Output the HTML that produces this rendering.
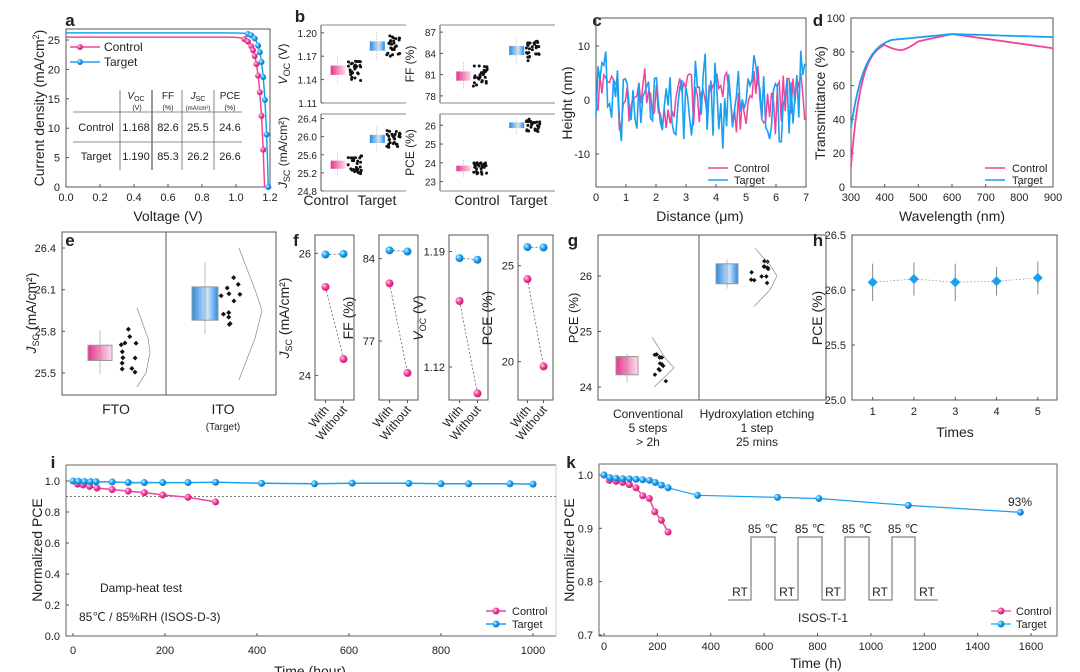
<!DOCTYPE html>
<html><head><meta charset="utf-8"><style>
html,body{margin:0;padding:0;background:#fff;}
svg{display:block;font-family:"Liberation Sans",sans-serif;}
text{fill:#222;}
</style></head><body>
<svg id="s" width="1080" height="672" viewBox="0 0 1080 672" xmlns="http://www.w3.org/2000/svg">
<defs>
<linearGradient id="gp" x1="0" x2="1"><stop offset="0" stop-color="#e8338a"/><stop offset="1" stop-color="#fbe0ee"/></linearGradient>
<linearGradient id="gb" x1="0" x2="1"><stop offset="0" stop-color="#2a8be0"/><stop offset="0.6" stop-color="#cfe5fa"/><stop offset="1" stop-color="#2a8be0"/></linearGradient>
<radialGradient id="bp" cx="0.35" cy="0.35" r="0.7"><stop offset="0" stop-color="#ffd0ea"/><stop offset="0.5" stop-color="#f23d9a"/><stop offset="1" stop-color="#c2166e"/></radialGradient>
<radialGradient id="bb" cx="0.35" cy="0.35" r="0.7"><stop offset="0" stop-color="#d0f0ff"/><stop offset="0.5" stop-color="#18a0f0"/><stop offset="1" stop-color="#0a70c0"/></radialGradient>
</defs>
<g id="g"></g>
</svg>
<script>
var G=document.getElementById('g'),o='';
function L(x1,y1,x2,y2,c,w,d){o+='<line x1="'+x1+'" y1="'+y1+'" x2="'+x2+'" y2="'+y2+'" stroke="'+(c||'#555')+'" stroke-width="'+(w||1)+'"'+(d?' stroke-dasharray="'+d+'"':'')+'/>';}
function R(x,y,w,h,f,s){o+='<rect x="'+x+'" y="'+y+'" width="'+w+'" height="'+h+'" fill="'+(f||'none')+'" stroke="'+(s||'#555')+'" stroke-width="1"/>';}
function T(x,y,t,sz,a,ex){o+='<text x="'+x+'" y="'+y+'" font-size="'+(sz||11)+'" text-anchor="'+(a||'middle')+'" '+(ex||'')+'>'+t+'</text>';}
function P(pts,c,w,d){o+='<polyline points="'+pts.map(function(p){return p[0].toFixed(1)+','+p[1].toFixed(1)}).join(' ')+'" fill="none" stroke="'+c+'" stroke-width="'+(w||1.5)+'"'+(d?' stroke-dasharray="'+d+'"':'')+'/>';}
function C(x,y,r,f){o+='<circle cx="'+x+'" cy="'+y+'" r="'+r+'" fill="'+f+'"/>';}
function D(x,y,r,f){o+='<polygon points="'+x+','+(y-r)+' '+(x+r)+','+y+' '+x+','+(y+r)+' '+(x-r)+','+y+'" fill="'+f+'"/>';}
function B(x,y,t){T(x,y,t,17,'middle','font-weight="bold"');}
function RT(x,y,t,sz){o+='<text x="'+x+'" y="'+y+'" font-size="'+(sz||13)+'" text-anchor="middle" transform="rotate(-90 '+x+' '+y+')">'+t+'</text>';}
var seed=7;function rnd(){seed=(seed*16807)%2147483647;return seed/2147483647;}
var PK='#f0449a',BL='#1aa0f0';

// ===== a =====
B(70,26,'a');R(66,29,204,158);
var ax=function(v){return 66+v*170},ay=function(j){return 187-j*5.88};
[0,0.2,0.4,0.6,0.8,1.0,1.2].forEach(function(v){T(ax(v),201,v.toFixed(1),11);L(ax(v),187,ax(v),184)});
[0,5,10,15,20,25].forEach(function(v){T(60,ay(v)+4,v,11,'end');L(66,ay(v),69,ay(v))});
T(168,221,'Voltage (V)',14);RT(44,108,'Current density (mA/cm<tspan font-size="9" dy="-5">2</tspan><tspan dy="5">)</tspan>',14);
function jv(js,voc,n){var p=[];for(var v=0;v<=voc;v+=0.005){var j=js*(1-Math.exp((v-voc)/n));p.push([ax(v),ay(Math.max(j,0))]);}p.push([ax(voc),ay(0)]);return p;}
P(jv(25.5,1.168,0.028),PK,1.5);P(jv(26.2,1.19,0.024),BL,1.5);
[1.05,1.07,1.09,1.1,1.11,1.12,1.13,1.14,1.15,1.16].forEach(function(v){var j=25.5*(1-Math.exp((v-1.168)/0.028));C(ax(v),ay(j),3,'url(#bp)')});
[1.07,1.09,1.11,1.13,1.14,1.15,1.16,1.17,1.18,1.19].forEach(function(v){var j=26.2*(1-Math.exp((v-1.19)/0.024));C(ax(v),ay(Math.max(j,0)),3,'url(#bb)')});
L(70,47,100,47,PK,1.5);C(80,47,3,'url(#bp)');T(104,51,'Control',12,'start');
L(70,62,100,62,BL,1.5);C(80,62,3,'url(#bb)');T(104,66,'Target',12,'start');
L(73,112,242,112,'#666',0.8);L(73,142,242,142,'#666',0.8);L(120,90,120,170,'#666',0.8);L(152,90,152,170,'#777',1.5);L(182,90,182,170,'#666',0.8);L(214,90,214,170,'#666',0.8);
T(136,99,'<tspan font-style="italic">V</tspan><tspan font-size="7" dy="2">OC</tspan>',10);T(137,110,'(V)',7);
T(168,99,'FF',10);T(168,110,'(%)',7);
T(198,99,'<tspan font-style="italic">J</tspan><tspan font-size="7" dy="2">SC</tspan>',10);T(198,110,'(mA/cm²)',6);
T(230,99,'PCE',10);T(230,110,'(%)',7);
[['Control',1.168,82.6,25.5,24.6,131],['Target',1.190,85.3,26.2,26.6,160]].forEach(function(r){T(96,r[5],r[0],11);T(136,r[5],r[1].toFixed(3),11);T(168,r[5],r[2],11);T(198,r[5],r[3],11);T(230,r[5],r[4],11);});

// ===== b =====
B(300,22,'b');
function bx(x0,y0,w,h,lo,hi,ticks,yl,cv,tv,sp,lx){
 L(x0,y0,x0,y0+h);L(x0,y0,x0+w,y0,'#888');L(x0,y0+h,x0+w,y0+h,'#888');
 var f=function(v){return y0+h-(v-lo)/(hi-lo)*h};
 ticks.forEach(function(v){T(x0-4,f(v)+4,v,10,'end');L(x0,f(v),x0+3,f(v))});
 [[x0+w*0.22,cv,'url(#gp)'],[x0+w*0.68,tv,'url(#gb)']].forEach(function(q){
  var c=q[1];R(q[0]-9,f(c+sp*0.5),15,f(c-sp*0.5)-f(c+sp*0.5),q[2],'none');
  L(q[0]-2,f(c+sp*1.5),q[0]-2,f(c-sp*1.5),'#bbb',0.6,'2,1');
  for(var i=0;i<28;i++){var v=c+(rnd()-0.5)*sp*2.2;C(q[0]+8+rnd()*14,f(v),1.5,'#111')}
 });
 RT(lx,y0+h/2,yl,12);
}
bx(321,25,85,78,1.11,1.21,['1.11','1.14','1.17','1.20'],'<tspan font-style="italic">V</tspan><tspan font-size="9" dy="3">OC</tspan><tspan dy="-3"> (V)</tspan>',1.152,1.183,0.012,287);
bx(321,114,85,77,24.8,26.5,['24.8','25.2','25.6','26.0','26.4'],'<tspan font-style="italic">J</tspan><tspan font-size="9" dy="3">SC</tspan><tspan dy="-3"> (mA/cm²)</tspan>',25.38,25.95,0.18,287);
bx(440,25,115,78,77,88,['78','81','84','87'],'FF (%)',80.8,84.4,1.3,414);
bx(440,114,115,77,22.5,26.6,['23','24','25','26'],'PCE (%)',23.7,26.0,0.3,414);
T(326,205,'Control',14);T(377,205,'Target',14);T(477,205,'Control',14);T(528,205,'Target',14);

// ===== c =====
B(597,26,'c');R(596,18,210,169);
var cx=function(v){return 596+v*30},cy=function(v){return 100-v*5.4};
[0,1,2,3,4,5,6,7].forEach(function(v){T(cx(v),201,v,11);L(cx(v),187,cx(v),184)});
[10,0,-10].forEach(function(v){T(590,cy(v)+4,v,11,'end');L(596,cy(v),599,cy(v))});
T(700,221,'Distance (μm)',14);RT(572,103,'Height (nm)',14);
var a=[],b=[];for(var x=0;x<=7;x+=0.065){a.push([cx(x),cy((rnd()-0.5)*10+Math.sin(x*5)*1.5)]);b.push([cx(x),cy((rnd()-0.5)*15+Math.sin(x*4)*2)]);}
P(a,PK,1.5);P(b,BL,1.6);
L(708,168,728,168,PK,1.5);T(734,172,'Control',11,'start');L(708,180,728,180,BL,1.5);T(734,184,'Target',11,'start');

// ===== d =====
B(818,26,'d');R(851,18,202,169);
var dx=function(v){return 851+(v-300)*0.3367},dy=function(v){return 187-v*1.69};
[300,400,500,600,700,800,900].forEach(function(v){T(dx(v),201,v,11);L(dx(v),187,dx(v),184)});
[0,20,40,60,80,100].forEach(function(v){T(845,dy(v)+4,v,11,'end');L(851,dy(v),854,dy(v))});
T(952,221,'Wavelength (nm)',14);RT(825,103,'Transmittance (%)',14);
var dp=[],db=[];for(var w=300;w<=900;w+=4){
 var pk;if(w<=400)pk=12+72*(1-Math.exp(-(w-300)/30))/(1-Math.exp(-100/30));
 else if(w<=600){var t=(w-400)/200;pk=84-3*Math.sin(Math.min(t*2,1)*Math.PI)+6.5*Math.max(0,(t-0.25)/0.75);}
 else pk=90.5-(w-600)*0.028;
 var bl;if(w<=420)bl=35+52*(1-Math.exp(-(w-300)/40))/(1-Math.exp(-120/40));else if(w<=600)bl=87+3.5*(w-420)/180;else bl=90.5-(w-600)*0.006;
 dp.push([dx(w),dy(pk)]);db.push([dx(w),dy(bl)]);}
P(dp,PK,1.8);P(db,BL,1.8);
L(985,168,1005,168,PK,1.5);T(1012,172,'Control',11,'start');L(985,180,1005,180,BL,1.5);T(1012,184,'Target',11,'start');

// ===== e =====
B(70,246,'e');R(62,232,214,163);L(166,232,166,395);
var ey=function(v){return 373-(v-25.5)/0.9*125};
[25.5,25.8,26.1,26.4].forEach(function(v){T(56,ey(v)+4,v.toFixed(1),11,'end');L(62,ey(v),65,ey(v))});
RT(36,313,'<tspan font-style="italic">J</tspan><tspan font-size="9" dy="3">SC</tspan><tspan dy="-3"> (mA/cm²)</tspan>',14);
R(88,ey(25.7),24,ey(25.59)-ey(25.7),'url(#gp)','#999');L(100,ey(25.81),100,ey(25.49),'#999',0.6);
R(192,ey(26.12),26,ey(25.88)-ey(26.12),'url(#gb)','#999');L(205,ey(26.3),205,ey(25.78),'#999',0.6);
for(var i=0;i<12;i++){D(120+rnd()*18,ey(25.5+rnd()*0.32),2.5,'#111');D(220+rnd()*20,ey(25.85+rnd()*0.4),2.5,'#111');}
P([[137,ey(25.97)],[148,ey(25.75)],[150,ey(25.65)],[146,ey(25.5)],[137,ey(25.4)]],'#888',0.7);
P([[239,ey(26.4)],[255,ey(26.1)],[262,ey(25.95)],[255,ey(25.75)],[239,ey(25.45)]],'#888',0.7);
T(116,414,'FTO',14);T(223,414,'ITO',14);T(223,430,'(Target)',10);

// ===== f =====
B(296,246,'f');
function fb(x0,x1,lo,hi,ticks,yl,pts){R(x0,235,x1-x0,165);var f=function(v){return 400-(v-lo)/(hi-lo)*165};
 ticks.forEach(function(v){T(x0-4,f(v)+4,v,11,'end');L(x0,f(v),x0+3,f(v))});
 var xa=x0+(x1-x0)*0.27,xb=x0+(x1-x0)*0.73;
 L(xa,f(pts[0]),xb,f(pts[1]),'#666',0.8,'2,2');L(xa,f(pts[2]),xb,f(pts[3]),'#666',0.8,'2,2');
 C(xa,f(pts[0]),4,'url(#bb)');C(xb,f(pts[1]),4,'url(#bb)');C(xa,f(pts[2]),4,'url(#bp)');C(xb,f(pts[3]),4,'url(#bp)');
 RT(x0-26,318,yl,14);
 [['With',xa],['Without',xb]].forEach(function(q){L(q[1],400,q[1],403);o+='<text x="'+(q[1]+4)+'" y="410" font-size="12" text-anchor="end" transform="rotate(-50 '+(q[1]+4)+' 410)">'+q[0]+'</text>';});
}
fb(315,354,23.6,26.3,[24,26],'<tspan font-style="italic">J</tspan><tspan font-size="9" dy="3">SC</tspan><tspan dy="-3"> (mA/cm²)</tspan>',[25.98,25.99,25.45,24.27]);
fb(379,418,72,86,[77,84],'FF (%)',[84.7,84.6,81.9,74.3]);
fb(449,488,1.1,1.2,['1.12','1.19'],'<tspan font-style="italic">V</tspan><tspan font-size="9" dy="3">OC</tspan><tspan dy="-3"> (V)</tspan>',[1.186,1.185,1.16,1.104]);
fb(518,553,18,26.6,[20,25],'PCE (%)',[25.97,25.95,24.3,19.75]);

// ===== g =====
B(573,246,'g');R(598,235,228,165);L(699,235,699,400);
var gy=function(v){return 387-(v-24)*55.5};
[24,25,26].forEach(function(v){T(592,gy(v)+4,v,11,'end');L(598,gy(v),601,gy(v))});
RT(578,318,'PCE (%)',13);
R(616,gy(24.55),22,gy(24.22)-gy(24.55),'url(#gp)','#999');L(627,gy(24.6),627,gy(24.08),'#999',0.6);
R(716,gy(26.22),22,gy(25.86)-gy(26.22),'url(#gb)','#999');L(727,gy(26.3),727,gy(25.77),'#999',0.6);
for(var i=0;i<12;i++){D(651+rnd()*16,gy(24.1+rnd()*0.5),2.3,'#111');D(751+rnd()*18,gy(25.78+rnd()*0.52),2.3,'#111');}
P([[652,gy(24.9)],[666,gy(24.5)],[674,gy(24.35)],[666,gy(24.2)],[654,gy(24)]],'#888',0.7);
P([[755,gy(26.5)],[770,gy(26.2)],[777,gy(26.0)],[770,gy(25.75)],[754,gy(25.45)]],'#888',0.7);
T(648,418,'Conventional',12);T(648,432,'5 steps',12);T(648,446,'&gt; 2h',12);
T(757,418,'Hydroxylation etching',12);T(757,432,'1 step',12);T(757,446,'25 mins',12);

// ===== h =====
B(818,246,'h');R(852,235,205,165);
var hx=function(v){return 852+(v-0.5)*41.3},hy=function(v){return 400-(v-25)*110};
[1,2,3,4,5].forEach(function(v){T(hx(v),415,v,11);L(hx(v),400,hx(v),397)});
[25.0,25.5,26.0,26.5].forEach(function(v){T(846,hy(v)+4,v.toFixed(1),11,'end');L(852,hy(v),855,hy(v))});
T(955,437,'Times',14);RT(822,318,'PCE (%)',14);
var hv=[26.07,26.1,26.07,26.08,26.11],he=[0.17,0.15,0.17,0.13,0.15];
P(hv.map(function(v,i){return [hx(i+1),hy(v)]}),'#888',0.7,'1.5,2');
hv.forEach(function(v,i){L(hx(i+1),hy(v+he[i]),hx(i+1),hy(v-he[i]),'#888',1);D(hx(i+1),hy(v),5,BL);});

// ===== i =====
B(53,468,'i');L(66,465,556,465,'#666');L(66,465,66,636,'#666');L(66,636,556,636,'#666');L(556,465,556,636,'#ccc');
var ix=function(v){return 73+v*0.46},iy=function(v){return 636-v*155};
[0,200,400,600,800,1000].forEach(function(v){T(ix(v),654,v,11);L(ix(v),636,ix(v),633)});
[0,0.2,0.4,0.6,0.8,1.0].forEach(function(v){T(60,iy(v)+4,v.toFixed(1),11,'end');L(66,iy(v),69,iy(v))});
T(310,676,'Time (hour)',14);RT(42,550,'Normalized PCE',14);
L(66,iy(0.9),556,iy(0.9),'#555',0.8,'2,2');
var ip=[[10,0.98],[22,0.975],[36,0.965],[52,0.955],[85,0.945],[120,0.935],[155,0.925],[195,0.91],[250,0.895],[310,0.865]];
var ib=[[0,1],[12,0.998],[25,0.997],[38,0.996],[50,0.995],[85,0.994],[120,0.99],[155,0.99],[195,0.99],[250,0.99],[310,0.992],[410,0.985],[525,0.982],[607,0.986],[730,0.985],[800,0.982],[860,0.982],[950,0.982],[1000,0.98]];
P(ip.map(function(p){return[ix(p[0]),iy(p[1])]}),PK,1.5);P(ib.map(function(p){return[ix(p[0]),iy(p[1])]}),BL,1.5);
ip.forEach(function(p){L(ix(p[0]),iy(p[1]+0.025),ix(p[0]),iy(p[1]-0.025),'#f7a8cf',0.8);C(ix(p[0]),iy(p[1]),3.5,'url(#bp)')});
ib.forEach(function(p){C(ix(p[0]),iy(p[1]),3.5,'url(#bb)')});
T(100,592,'Damp-heat test',12,'start');T(79,621,'85℃ / 85%RH (ISOS-D-3)',12,'start');
L(486,611,506,611,PK,1.5);C(496,611,3.5,'url(#bp)');T(512,615,'Control',11,'start');
L(486,624,506,624,BL,1.5);C(496,624,3.5,'url(#bb)');T(512,628,'Target',11,'start');

// ===== k =====
B(571,468,'k');R(599,464,458,172,'none','#666');
var kx=function(v){return 604+v*0.2669},ky=function(v){return 475+(1-v)*533};
[0,200,400,600,800,1000,1200,1400,1600].forEach(function(v){T(kx(v),650,v,11);L(kx(v),636,kx(v),633)});
[0.7,0.8,0.9,1.0].forEach(function(v){T(593,ky(v)+4,v.toFixed(1),11,'end');L(599,ky(v),602,ky(v))});
T(816,668,'Time (h)',14);RT(574,550,'Normalized PCE',14);
var kp=[[0,1],[20,0.99],[45,0.988],[70,0.986],[95,0.982],[120,0.976],[145,0.961],[170,0.956],[190,0.931],[215,0.915],[240,0.893]];
var kb=[[0,1],[22,0.995],[45,0.994],[70,0.993],[95,0.993],[120,0.992],[145,0.991],[170,0.99],[192,0.986],[215,0.981],[240,0.976],[350,0.962],[650,0.958],[805,0.956],[1140,0.943],[1560,0.93]];
P(kp.map(function(p){return[kx(p[0]),ky(p[1])]}),PK,1.5);P(kb.map(function(p){return[kx(p[0]),ky(p[1])]}),BL,1.2);
kp.forEach(function(p){C(kx(p[0]),ky(p[1]),3.5,'url(#bp)')});kb.forEach(function(p){C(kx(p[0]),ky(p[1]),3.5,'url(#bb)')});
T(1020,506,'93%',12);
P([[728,600],[751,600],[751,537],[775,537],[775,600],[798,600],[798,537],[822,537],[822,600],[845,600],[845,537],[869,537],[869,600],[892,600],[892,537],[915,537],[915,600],[938,600]],'#666',1);
[[740,'RT'],[787,'RT'],[833,'RT'],[880,'RT'],[927,'RT']].forEach(function(q){T(q[0],596,q[1],12)});
[763,810,857,903].forEach(function(x){T(x,533,'85 ℃',12)});
T(823,622,'ISOS-T-1',12);
L(991,611,1011,611,PK,1.2);C(1001,611,3.5,'url(#bp)');T(1016,615,'Control',11,'start');
L(991,624,1011,624,BL,1.2);C(1001,624,3.5,'url(#bb)');T(1016,628,'Target',11,'start');

G.innerHTML=o;
</script>
</body></html>
